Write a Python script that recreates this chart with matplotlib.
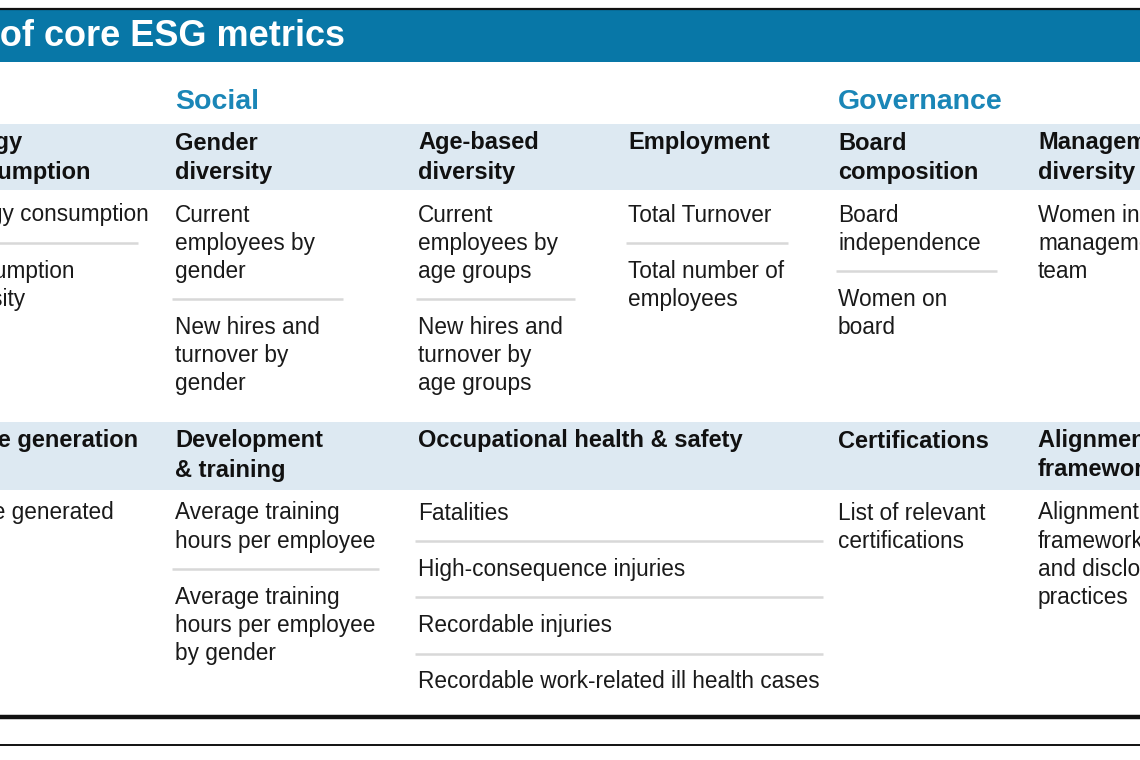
import matplotlib.pyplot as plt

# ---- content -------------------------------------------------------------
title = "Overview of core ESG metrics"
pillars = ["Social", "Governance"]
pillar_cols = [1, 4]

top_headers = ["Energy\nconsumption", "Gender\ndiversity", "Age-based\ndiversity",
               "Employment", "Board\ncomposition", "Management\ndiversity"]
top_items = [
    ["Energy consumption", "Consumption\nintensity"],
    ["Current\nemployees by\ngender", "New hires and\nturnover by\ngender"],
    ["Current\nemployees by\nage groups", "New hires and\nturnover by\nage groups"],
    ["Total Turnover", "Total number of\nemployees"],
    ["Board\nindependence", "Women on\nboard"],
    ["Women in\nmanagement\nteam"],
]

bottom_headers = ["Waste generation", "Development\n& training",
                  "Occupational health & safety", None,
                  "Certifications", "Alignment with\nframeworks"]
bottom_items = [
    ["Waste generated"],
    ["Average training\nhours per employee",
     "Average training\nhours per employee\nby gender"],
    ["Fatalities", "High-consequence injuries", "Recordable injuries",
     "Recordable work-related ill health cases"],
    [],
    ["List of relevant\ncertifications"],
    ["Alignment with\nframeworks\nand disclosure\npractices"],
]

# ---- layout --------------------------------------------------------------
col_x = [-58, 175, 418, 628, 838, 1038]
top_rule = {0: (-60, 138), 1: (172, 343), 2: (416, 575), 3: (626, 788), 4: (836, 997), 5: (1036, 1200)}
bot_rule = {0: (-60, 138), 1: (172, 379), 2: (415, 823), 4: (836, 997), 5: (1036, 1200)}

BLUE = "#0877a7"
LABEL_BLUE = "#1a86b7"
BAND = "#dde9f2"
RULE = "#d8d8d8"
FONT = "Liberation Sans"
PITCH = 28.1

fig = plt.figure(figsize=(11.4, 7.6), dpi=100)
ax = fig.add_axes([0, 0, 1, 1])
ax.set_xlim(0, 1140)
ax.set_ylim(760, 0)
ax.axis("off")

# title band
ax.axhline(8.5, color="#111111", lw=1.6)
ax.axhspan(10, 62, color=BLUE, lw=0)
ax.text(345, 37, title, ha="right", va="center", color="white",
        fontsize=26, fontweight="bold", family=FONT)

for name, c in zip(pillars, pillar_cols):
    ax.text(col_x[c], 102, name, ha="left", va="center", color=LABEL_BLUE,
            fontsize=20.5, fontweight="bold", family=FONT)


def draw_block(band_top, band_bot, headers, items, rules, first_y):
    ax.axhspan(band_top, band_bot, color=BAND, lw=0)
    for c, head in enumerate(headers):
        if head is None:
            continue
        for i, line in enumerate(head.split("\n")):
            ax.text(col_x[c], band_top + 19 + i * 29, line, ha="left", va="center",
                    fontsize=17, fontweight="bold", color="#111111", family=FONT)
    for c, col_items in enumerate(items):
        slot = 0
        for k, item in enumerate(col_items):
            if k > 0:
                x0, x1 = rules[c]
                ax.plot([x0, x1], [first_y + slot * PITCH] * 2, color=RULE, lw=1.8,
                        solid_capstyle="butt")
                slot += 1
            for line in item.split("\n"):
                ax.text(col_x[c], first_y + slot * PITCH, line, ha="left", va="center",
                        fontsize=16.3, color="#1a1a1a", family=FONT)
                slot += 1


draw_block(124, 190, top_headers, top_items, top_rule, 215)
draw_block(422, 490, bottom_headers, bottom_items, bot_rule, 513)

# bottom rules
ax.axhline(717, color="#111111", lw=3.2)
ax.axhline(745, color="#111111", lw=1.4)

fig.savefig("out.png", dpi=100)
